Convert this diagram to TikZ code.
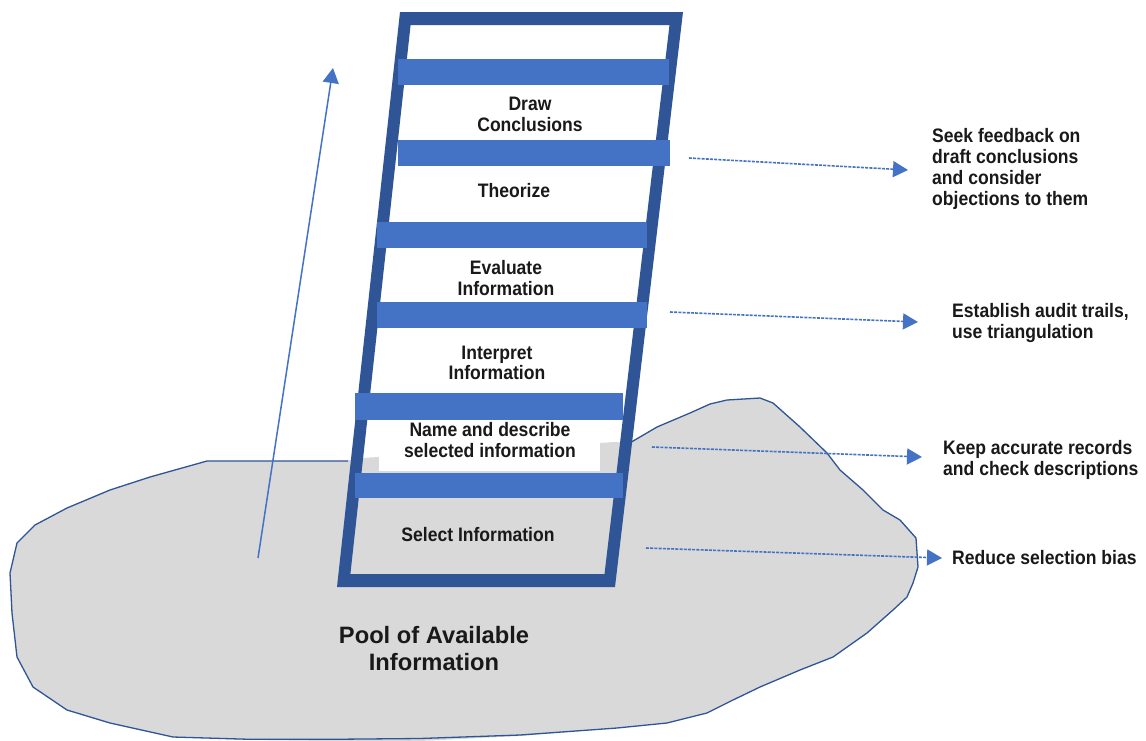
\documentclass[tikz,border=0pt]{standalone}
\usepackage{fontspec}
\setmainfont{Liberation Sans}
\newfontfamily\lblfont{Liberation Sans}[FakeStretch=0.9]
\usetikzlibrary{arrows.meta}
\definecolor{frameblue}{HTML}{2F5597}
\definecolor{rungblue}{HTML}{4472C4}
\definecolor{poolgray}{HTML}{D9D9D9}
\definecolor{pooledge}{HTML}{2F5597}
\begin{document}
\begin{tikzpicture}[x=1pt,y=-1pt,
  framestyle/.style={fill=frameblue},
  rung/.style={fill=rungblue},
  lbl/.style={font=\lblfont\bfseries\fontsize{19.5}{20.5}\selectfont, align=center, inner sep=0pt, text=black!90},
  rlbl/.style={font=\lblfont\bfseries\fontsize{19.5}{21}\selectfont, align=left, anchor=west, inner sep=0pt, text=black!90},
  poollbl/.style={font=\bfseries\fontsize{23.7}{27}\selectfont, align=center, inner sep=0pt, text=black!90},
  darr/.style={draw=rungblue, line width=1.6pt, dash pattern=on 3pt off 1.2pt, -{Triangle[length=15pt,width=16pt]}},
  uarr/.style={draw=rungblue, line width=1.5pt, -{Triangle[length=15pt,width=16pt]}},
  edge/.style={draw=pooledge, line width=1.3pt, line join=round}
]
\useasboundingbox (0,0) rectangle (1146,740);
\fill[white] (0,0) rectangle (1146,740);

% pool of information (blob)
\fill[poolgray] (345,461) -- (207,461) -- (150,477) -- (110,490) -- (67,508) -- (35,525) -- (17,543) -- (10,573) -- (12,613) -- (17,657) -- (33,687) -- (67,710) -- (110,723) -- (173,737) -- (250,740) -- (330,741) -- (420,741) -- (520,736) -- (617,728) -- (667,723) -- (707,713) -- (733,700) -- (760,687) -- (800,670) -- (833,657) -- (867,633) -- (893,610) -- (907,597) -- (913,583) -- (918,567) -- (916,538) -- (900,520) -- (883,510) -- (863,490) -- (840,470) -- (827,453) -- (800,427) -- (773,403) -- (760,398) -- (727,400) -- (710,404) -- (690,413) -- (657,427) -- (628,443) -- (615,442) -- (362,458) -- cycle;
\draw[edge] (348,461) -- (207,461) -- (150,477) -- (110,490) -- (67,508) -- (35,525) -- (17,543) -- (10,573) -- (12,613) -- (17,657) -- (33,687) -- (67,710) -- (110,723) -- (173,737) -- (250,739.3) -- (330,739.3) -- (420,738.5) -- (520,735) -- (617,728) -- (667,723) -- (707,713) -- (733,700) -- (760,687) -- (800,670) -- (833,657) -- (867,633) -- (893,610) -- (907,597) -- (913,583) -- (918,567) -- (916,538) -- (900,520) -- (883,510) -- (863,490) -- (840,470) -- (827,453) -- (800,427) -- (773,403) -- (760,398) -- (727,400) -- (710,404) -- (690,413) -- (657,427) -- (628,444);

% white text box over the pool
\fill[white] (379,420) rectangle (600,471);

% ladder frame
\fill[framestyle, even odd rule] (400,12) -- (683,12) -- (615,587) -- (337,587) -- cycle
  (410.6,25) -- (669.5,25) -- (604.5,574) -- (350.4,574) -- cycle;

% rungs
\fill[rung] (398,59) rectangle (669,85);
\fill[rung] (398,140) rectangle (670,166);
\fill[rung] (377,222) rectangle (647,248);
\fill[rung] (377,302) rectangle (647,328);
\fill[rung] (355,393) rectangle (623,420);
\fill[rung] (355,473) rectangle (623,498);

% ladder labels
\node[lbl] (dc) at (530,114.5) {Draw\\Conclusions};
\node[lbl] (th) at (514,191) {Theorize};
\node[lbl] (ev) at (506,278) {Evaluate\\Information};
\node[lbl] (ip) at (497,363) {Interpret\\Information};
\node[lbl] (nd) at (490,440) {Name and describe\\selected information};
\node[lbl] (si) at (478,535) {Select Information};

% pool label
\node[poollbl] (pl) at (434,649) {Pool of Available\\Information};

% right labels
\node[rlbl] (r1) at (932,169) {Seek feedback on\\draft conclusions\\and consider\\objections to them};
\node[rlbl] (r2) at (952,323) {Establish audit trails,\\use triangulation};
\node[rlbl] (r3) at (943,460) {Keep accurate records\\and check descriptions};
\node[rlbl] (r4) at (952,558) {Reduce selection bias};

% arrows
\coordinate (us) at (258,558);
\coordinate (ue) at (333,68);
\draw[uarr] (us) -- (ue);

\coordinate (a1s) at (689,158); \coordinate (a1e) at (908,170);
\coordinate (a2s) at (670,312); \coordinate (a2e) at (918,322);
\coordinate (a3s) at (652,447); \coordinate (a3e) at (922,457);
\coordinate (a4s) at (646,548); \coordinate (a4e) at (942,558);
\draw[darr] (a1s) -- (a1e);
\draw[darr] (a2s) -- (a2e);
\draw[darr] (a3s) -- (a3e);
\draw[darr] (a4s) -- (a4e);
\end{tikzpicture}
\end{document}
